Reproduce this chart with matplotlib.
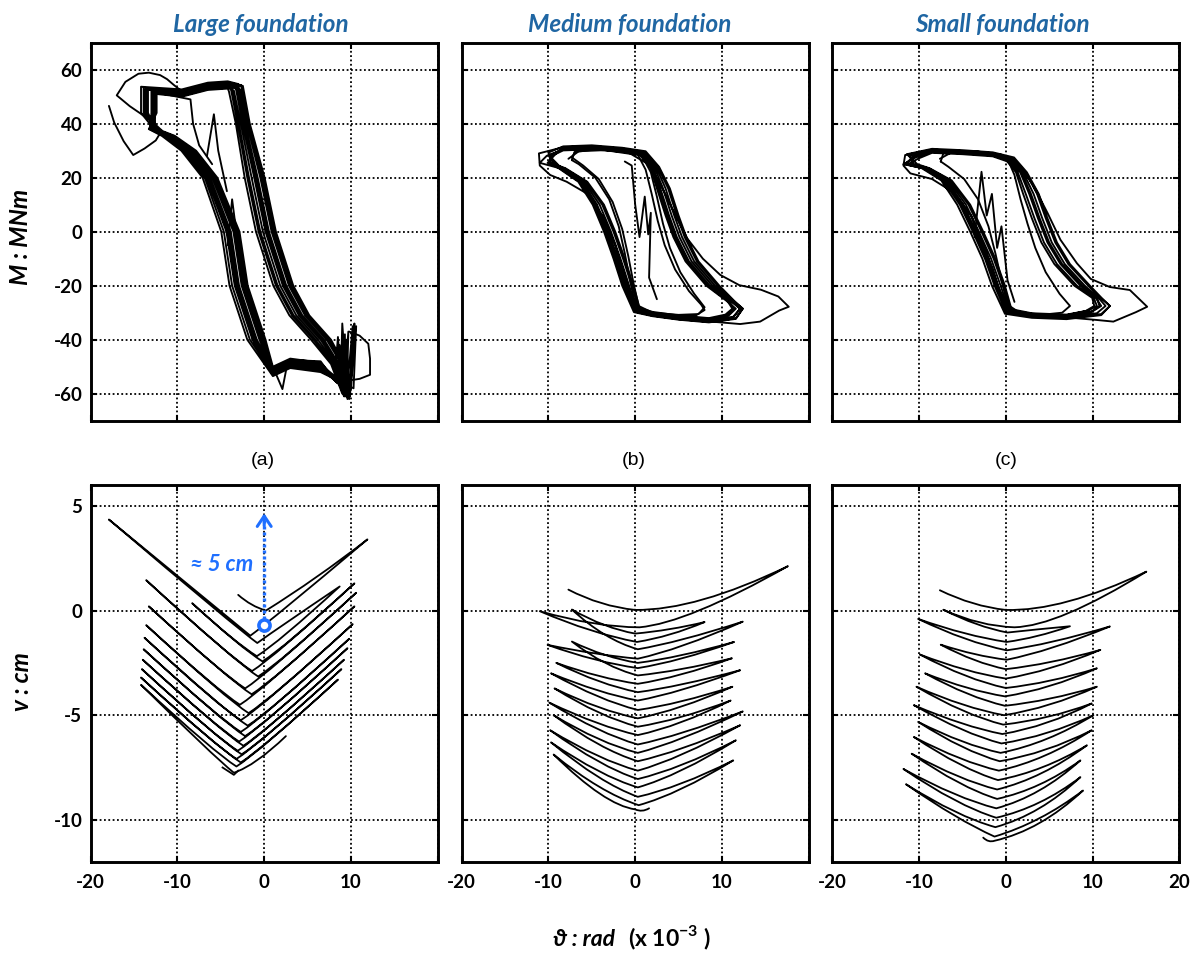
import matplotlib
matplotlib.use('Agg')
import matplotlib.pyplot as plt
from matplotlib.path import Path
from matplotlib.patches import PathPatch

plt.rcParams['axes.unicode_minus'] = False
plt.rcParams['font.family'] = ['Lato', 'DejaVu Sans']
plt.rcParams['mathtext.fontset'] = 'custom'
plt.rcParams['mathtext.rm'] = 'Lato'
plt.rcParams['mathtext.bf'] = 'Lato:bold'

# ---------------- axis settings ----------------
theta_ticks = [-20, -10, 0, 10, 20]
moment_ticks = [-60, -40, -20, 0, 20, 40, 60]
settle_ticks = [-10, -5, 0, 5]
titles = ['Large foundation', 'Medium foundation', 'Small foundation']
panel_tags = ['(a)', '(b)', '(c)']

# ---------------- moment - rotation loops (theta x1e-3 rad, M MNm) ----------------
large_init = [(-17.9, 46.6), (-17.3, 40.5), (-16.2, 33.5), (-15.1, 28.4), (-13.8, 30.8), (-12.5, 33.8),
              (-11.8, 37.5), (-13.0, 41.0), (-15.5, 46.5), (-17.0, 50.5), (-16.0, 55.5), (-14.5, 58.5),
              (-13.3, 58.9), (-12.0, 58.0), (-11.2, 56.5), (-10.4, 54.3), (-9.5, 52.0), (-6.5, 54.5),
              (-4.2, 55.0)]
large_c1 = [(-2.46, 54.0), (-1.66, 40), (0.05, 20), (1.35, 0), (3.35, -20), (5.2, -31), (7.7, -40),
            (9.2, -49), (9.9, -61), (10.2, -35), (9.6, -57), (6.5, -51), (3.0, -49.5), (1.0, -52.5),
            (-1.65, -40), (-3.7, -20), (-4.65, 0), (-6.85, 20), (-9.3, 30), (-11.6, 35.5), (-13.2, 38)]
large_c2 = [(-12.9, 44), (-12.9, 51.7), (-9.5, 50.7), (-6.5, 53.2), (-4.2, 53.7), (-2.8, 52.7), (-2.0, 40),
            (-0.45, 20), (0.85, 0), (2.85, -20), (4.7, -31), (7.2, -40), (8.9, -49), (9.7, -61), (9.5, -40),
            (9.1, -56), (6.5, -49.2), (3.0, -47.7), (1.0, -50.7), (-0.15, -40), (-2.2, -20), (-3.15, 0),
            (-5.65, 20), (-8.1, 30), (-10.5, 35.5), (-12.5, 38)]
large_c3 = [(-13.4, 44), (-13.4, 52.8), (-9.5, 51.8), (-6.5, 54.3), (-4.2, 54.8), (-3.16, 53.8), (-2.36, 40),
            (-0.95, 20), (0.35, 0), (2.35, -20), (4.2, -31), (6.7, -40), (8.5, -49), (9.6, -61), (9.0, -34),
            (8.8, -57), (6.5, -50.5), (3.0, -49), (1.0, -52), (-1.05, -40), (-3.1, -20), (-4.05, 0),
            (-6.4, 20), (-8.85, 30), (-11.2, 35.5), (-12.9, 38)]
large_c4 = [(-12.6, 44), (-12.6, 51.3), (-9.5, 50.3), (-6.5, 52.8), (-4.2, 53.3), (-3.5, 52.3), (-2.7, 40),
            (-1.45, 20), (-0.15, 0), (1.85, -20), (3.7, -31), (6.2, -40), (8.2, -49), (9.4, -61), (9.3, -38),
            (8.6, -56), (6.5, -48.5), (3.0, -47), (1.0, -50), (0.15, -40), (-1.9, -20), (-2.85, 0),
            (-5.4, 20), (-7.85, 30), (-10.3, 35.5), (-12.3, 38)]
large_c5 = [(-13.9, 44), (-13.9, 53.3), (-9.5, 52.3), (-6.5, 54.8), (-4.2, 55.3), (-2.67, 54.3), (-1.87, 40),
            (-0.25, 20), (1.05, 0), (3.05, -20), (4.9, -31), (7.4, -40), (9.0, -49), (9.8, -62), (10.5, -36),
            (10.0, -58), (6.5, -51.5), (3.0, -50), (1.0, -53), (-1.35, -40), (-3.4, -20), (-4.35, 0),
            (-6.65, 20), (-9.1, 30), (-11.5, 35.5), (-13.1, 38)]
large_c6 = [(-13.0, 44), (-13.0, 52.2), (-9.5, 51.2), (-6.5, 53.7), (-4.2, 54.2), (-3.86, 53.2), (-3.06, 40),
            (-1.95, 20), (-0.65, 0), (1.35, -20), (3.2, -31), (5.7, -40), (7.9, -49), (9.2, -61), (8.7, -42),
            (8.4, -56), (6.5, -49.7), (3.0, -48.2), (1.0, -51.2), (-0.55, -40), (-2.6, -20), (-3.55, 0),
            (-6.0, 20), (-8.45, 30), (-10.85, 35.5), (-12.7, 38)]
large_c7 = [(-14.2, 44), (-14.2, 53.7), (-9.5, 52.7), (-6.5, 55.2), (-4.2, 55.7), (-3.0, 54.7), (-2.2, 40),
            (-0.75, 20), (0.55, 0), (2.55, -20), (4.4, -31), (6.9, -40), (8.6, -49), (9.6, -62), (10.6, -35),
            (10.3, -58), (6.5, -52), (3.0, -50.5), (1.0, -53.5), (-1.95, -40), (-4.0, -20), (-4.95, 0),
            (-7.1, 20), (-9.55, 30), (-11.8, 35.5), (-13.3, 38)]
large_c8 = [(-12.4, 44), (-12.4, 51.0), (-9.5, 50.0), (-6.5, 52.5), (-4.2, 53.0), (-4.07, 52.0), (-3.27, 40),
            (-2.25, 20), (-0.95, 0), (1.05, -20), (2.9, -31), (5.4, -40), (7.7, -49), (9.0, -60), (8.5, -39),
            (8.1, -55), (6.5, -48), (3.0, -47.5), (1.0, -50.5), (-0.35, -40), (-2.4, -20), (-3.35, 0),
            (-5.8, 20), (-8.25, 30), (-10.7, 35.5), (-12.5, 38)]
large_c9 = [(-13.7, 44), (-13.7, 52.6), (-9.5, 51.6), (-6.5, 54.1), (-4.2, 54.6), (-3.3, 53.6), (-2.5, 40),
            (-1.15, 20), (0.15, 0), (2.15, -20), (4.0, -31), (6.5, -40), (8.4, -49), (9.5, -61), (9.7, -37),
            (9.2, -57), (6.5, -50.2), (3.0, -48.7), (1.0, -51.7), (-1.25, -40), (-3.3, -20), (-4.25, 0),
            (-6.55, 20), (-9.0, 30), (-11.33, 35.5), (-12.97, 38)]
large_c10 = [(-12.8, 44), (-12.8, 51.9), (-9.5, 50.9), (-6.5, 53.4), (-4.2, 53.9), (-3.72, 52.9), (-2.92, 40),
             (-1.75, 20), (-0.45, 0), (1.55, -20), (3.4, -31), (5.9, -40), (8.0, -49), (9.3, -61), (9.0, -41),
             (8.7, -56), (6.5, -49.4), (3.0, -47.9), (1.0, -50.9), (-0.85, -40), (-2.9, -20), (-3.85, 0),
             (-6.23, 20), (-8.68, 30), (-11.07, 35.5), (-12.83, 38)]
large_c11 = [(-13.5, 44), (-13.5, 53.1), (-9.5, 52.1), (-6.5, 54.6), (-4.2, 55.1), (-2.6, 54.1), (-1.8, 40),
             (-0.15, 20), (1.15, 0), (3.15, -20), (5.0, -31), (7.5, -40), (9.07, -49), (9.83, -61), (10.4, -34),
             (9.9, -57), (6.5, -51.2), (3.0, -49.7), (1.0, -52.7), (-0.05, -40), (-2.1, -20), (-3.05, 0),
             (-5.59, 20), (-8.04, 30), (-10.53, 35.5), (-12.57, 38), (-12.6, 44)]
large_spike1 = [(-6.6, 28), (-5.8, 43.5), (-5.3, 30), (-4.3, 15)]
large_spike2 = [(-4.2, -5), (-3.7, 12), (-3.3, 2), (-2.6, -15)]
large_spike3 = [(1.0, -50), (2.1, -58.3), (2.6, -50)]
large_inner = [(-10.8, 50.5), (-8.5, 49), (-8.2, 40), (-7.5, 32), (-6.0, 25)]
large_right = [(9.8, -37), (11.0, -38.5), (12.0, -41.5), (12.2, -47), (12.2, -53), (11.0, -54.5), (10.0, -55)]

medium_init = [(-7.7, 27.0), (-6.5, 29.8), (-3.5, 30.2), (-0.5, 28.8), (1.5, 25.0), (3.0, 17.0), (4.5, 7.0),
               (6.0, -2.5), (7.8, -10.0), (9.8, -16.0), (12.0, -19.8), (14.5, -21.5), (16.5, -24.0),
               (17.7, -27.8), (16.6, -29.2), (14.4, -33.3), (12.1, -34.2), (9.5, -33.5), (6.0, -32.5),
               (3.0, -31.0), (0.6, -29.2), (-0.4, -24.0), (-1.3, -15.0), (-2.3, -5.0), (-3.6, 5.0),
               (-5.5, 14.0), (-7.9, 18.5), (-9.8, 21.0), (-11.0, 24.5)]
medium_c1 = [(-11.1, 29.0), (-8.3, 31.3), (-5.0, 31.7), (-1.5, 30.8), (1.1, 29.5), (2.62, 24), (3.8, 16),
             (4.8, 6), (5.7, -2), (7.1, -11), (9.5, -20), (11.26, -25.5), (12.4, -28.5), (11.6, -32.1),
             (8.5, -33.4), (5.0, -32.4), (2.0, -31.1), (-0.05, -29.6), (-1.3, -20), (-2.3, -10), (-3.4, 0),
             (-4.7, 10), (-6.4, 18.5), (-8.7, 23.5), (-11.0, 25.5)]
medium_c2 = [(-10.2, 28.1), (-8.3, 30.4), (-5.0, 30.8), (-1.5, 29.9), (0.65, 28.6), (1.99, 24), (2.9, 16),
             (3.9, 6), (4.8, -2), (6.2, -11), (8.6, -20), (10.72, -25.5), (11.4, -28.5), (10.6, -31.1),
             (8.5, -32.4), (5.0, -31.4), (2.0, -30.1), (0.4, -28.6), (-0.4, -20), (-1.4, -10), (-2.5, 0),
             (-3.8, 10), (-5.68, 18.5), (-8.16, 23.5), (-10.1, 25.5)]
medium_c3 = [(-9.2, 28.7), (-8.3, 31.0), (-5.0, 31.4), (-1.5, 30.5), (0.95, 29.2), (2.41, 24), (3.5, 16),
             (4.5, 6), (5.4, -2), (6.8, -11), (9.2, -20), (11.08, -25.5), (12.1, -28.5), (11.3, -31.8),
             (8.5, -33.1), (5.0, -32.1), (2.0, -30.8), (0.1, -29.3), (-1.0, -20), (-2.0, -10), (-3.1, 0),
             (-4.4, 10), (-6.16, 18.5), (-8.52, 23.5), (-9.1, 25.5)]
medium_c4 = [(-9.8, 27.8), (-8.3, 30.1), (-5.0, 30.5), (-1.5, 29.6), (0.55, 28.3), (1.85, 24), (2.7, 16),
             (3.7, 6), (4.6, -2), (6.0, -11), (8.4, -20), (10.6, -25.5), (11.2, -28.5), (10.4, -30.7),
             (8.5, -32.0), (5.0, -31.0), (2.0, -29.7), (0.5, -28.2), (-0.2, -20), (-1.2, -10), (-2.3, 0),
             (-3.6, 10), (-5.52, 18.5), (-8.04, 23.5), (-9.7, 25.5)]
medium_c5 = [(-10.0, 29.3), (-8.3, 31.6), (-5.0, 32.0), (-1.5, 31.1), (1.2, 29.8), (2.76, 24), (4.0, 16),
             (5.0, 6), (5.9, -2), (7.3, -11), (9.7, -20), (11.38, -25.5), (12.4, -28.5), (11.6, -32.3),
             (8.5, -33.6), (5.0, -32.6), (2.0, -31.3), (-0.15, -29.8), (-1.5, -20), (-2.5, -10), (-3.6, 0),
             (-4.9, 10), (-6.56, 18.5), (-8.82, 23.5), (-9.9, 25.5)]
medium_c6 = [(-9.5, 28.5), (-8.3, 30.8), (-5.0, 31.2), (-1.5, 30.3), (0.8, 29.0), (2.2, 24), (3.2, 16),
             (4.2, 6), (5.1, -2), (6.5, -11), (8.9, -20), (10.9, -25.5), (12.1, -28.5), (11.3, -31.5),
             (8.5, -32.8), (5.0, -31.8), (2.0, -30.5), (0.25, -29.0), (-0.7, -20), (-1.7, -10), (-2.8, 0),
             (-4.1, 10), (-5.92, 18.5), (-8.34, 23.5), (-9.4, 25.5)]
medium_c7 = [(-9.9, 28.3), (-8.3, 30.6), (-5.0, 31.0), (-1.5, 30.1), (0.45, 28.8), (1.71, 24), (2.5, 16),
             (3.5, 6), (4.4, -2), (5.8, -11), (8.2, -20), (10.48, -25.5), (11.6, -28.5), (10.8, -31.0),
             (8.5, -32.3), (5.0, -31.3), (2.0, -30.0), (0.05, -28.5), (-1.1, -20), (-2.1, -10), (-3.2, 0),
             (-4.5, 10), (-6.24, 18.5), (-8.58, 23.5), (-9.8, 25.5)]
medium_s1 = [(-7.3, 26.5), (-7.0, 29.5), (-4.5, 30.5), (-1.5, 30.0), (0.3, 28.5), (1.2, 23.0), (1.9, 14.0),
             (2.6, 4.0), (3.4, -5.0), (4.6, -14.0), (6.2, -22.0), (7.6, -27.0), (8.0, -29.0), (7.0, -31.0),
             (4.5, -31.0), (1.5, -29.8), (0.0, -27.0), (-0.6, -18.0), (-1.2, -8.0), (-1.9, 2.0), (-3.0, 12.0),
             (-4.6, 20.0), (-6.5, 25.0), (-7.3, 26.5)]
medium_s2 = [(-7.3, 27.5), (-6.8, 30.2), (-4.0, 30.8), (-1.0, 30.2), (0.8, 28.0), (1.8, 22.0), (2.5, 13.0),
             (3.2, 3.0), (4.0, -6.0), (5.2, -15.0), (6.8, -23.0), (8.0, -28.0), (7.3, -30.5), (5.0, -30.8),
             (2.0, -30.0), (0.4, -27.5), (-0.2, -19.0), (-0.8, -9.0), (-1.5, 1.0), (-2.6, 11.0), (-4.2, 19.5),
             (-6.0, 24.5), (-7.3, 27.5)]
medium_zigzag = [(-1.2, 26.0), (-0.4, 24.5), (0.0, 10.0), (0.5, -2.0), (1.1, 13.0), (1.5, -1.0), (1.8, 7.0),
                 (1.6, -17.0), (2.5, -25.0)]

small_init = [(-7.6, 27.0), (-6.3, 29.3), (-3.5, 29.8), (-0.5, 28.5), (1.5, 25.0), (3.2, 17.0), (4.8, 7.0),
              (6.3, -3.0), (8.2, -11.7), (9.8, -17.5), (12.0, -20.5), (14.3, -21.6), (16.3, -27.8),
              (15.0, -29.8), (12.4, -33.3), (10.5, -32.7), (8.0, -32.0), (4.0, -31.5), (0.5, -29.5),
              (-0.5, -24.0), (-1.5, -14.0), (-2.7, -4.0), (-4.0, 6.0), (-6.0, 14.5), (-8.5, 19.5),
              (-11.0, 21.6), (-11.8, 24.5)]
small_c1 = [(-11.6, 28.4), (-8.5, 30.4), (-5.0, 29.9), (-1.5, 29.1), (0.85, 27.2), (2.29, 22), (3.6, 14),
            (4.6, 5), (5.7, -4), (7.2, -12), (9.5, -20), (10.92, -24.5), (12.0, -27.5), (11.0, -30.5),
            (7.0, -32.0), (3.0, -31.5), (0.05, -30.0), (-1.3, -20), (-2.4, -10), (-3.8, 0), (-5.3, 10),
            (-7.2, 19), (-9.5, 23.5), (-11.8, 25.0)]
small_c2 = [(-10.4, 27.5), (-8.5, 29.5), (-5.0, 29.0), (-1.5, 28.2), (0.4, 26.3), (1.66, 22), (2.7, 14),
            (3.7, 5), (4.8, -4), (6.3, -12), (8.6, -20), (10.38, -24.5), (11.0, -27.5), (10.0, -29.5),
            (7.0, -31.0), (3.0, -30.5), (0.55, -29.0), (-0.3, -20), (-1.4, -10), (-2.8, 0), (-4.3, 10),
            (-6.4, 19), (-8.9, 23.5), (-10.6, 25.0)]
small_c3 = [(-11.1, 28.2), (-8.5, 30.2), (-5.0, 29.7), (-1.5, 28.9), (0.65, 27.0), (2.01, 22), (3.2, 14),
            (4.2, 5), (5.3, -4), (6.8, -12), (9.1, -20), (10.68, -24.5), (11.5, -27.5), (10.5, -30.2),
            (7.0, -31.7), (3.0, -31.2), (0.15, -29.7), (-1.1, -20), (-2.2, -10), (-3.6, 0), (-5.1, 10),
            (-7.04, 19), (-9.38, 23.5), (-11.3, 25.0)]
small_c4 = [(-10.0, 27.2), (-8.5, 29.2), (-5.0, 28.7), (-1.5, 27.9), (0.2, 26.0), (1.38, 22), (2.3, 14),
            (3.3, 5), (4.4, -4), (5.9, -12), (8.2, -20), (10.14, -24.5), (10.5, -27.5), (9.5, -29.2),
            (7.0, -30.7), (3.0, -30.2), (0.65, -28.7), (-0.1, -20), (-1.2, -10), (-2.6, 0), (-4.1, 10),
            (-6.24, 19), (-8.78, 23.5), (-10.2, 25.0)]
small_c5 = [(-11.4, 28.7), (-8.5, 30.7), (-5.0, 30.2), (-1.5, 29.4), (0.95, 27.5), (2.43, 22), (3.8, 14),
            (4.8, 5), (5.9, -4), (7.4, -12), (9.7, -20), (11.04, -24.5), (12.0, -27.5), (11.0, -30.9),
            (7.0, -32.4), (3.0, -31.9), (-0.1, -30.4), (-1.6, -20), (-2.7, -10), (-4.1, 0), (-5.6, 10),
            (-7.44, 19), (-9.68, 23.5), (-11.6, 25.0)]
small_c6 = [(-10.6, 28.0), (-8.5, 30.0), (-5.0, 29.5), (-1.5, 28.7), (0.5, 26.8), (1.8, 22), (2.9, 14),
            (3.9, 5), (5.0, -4), (6.5, -12), (8.8, -20), (10.5, -24.5), (10.8, -27.5), (9.8, -29.8),
            (7.0, -31.3), (3.0, -30.8), (0.4, -29.3), (-0.6, -20), (-1.7, -10), (-3.1, 0), (-4.6, 10),
            (-6.64, 19), (-9.08, 23.5), (-10.8, 25.0)]
small_c7 = [(-10.8, 27.7), (-8.5, 29.7), (-5.0, 29.2), (-1.5, 28.4), (0.05, 26.5), (1.17, 22), (2.0, 14),
            (3.0, 5), (4.1, -4), (5.6, -12), (7.9, -20), (9.96, -24.5), (10.2, -27.5), (9.2, -29.4),
            (7.0, -30.9), (3.0, -30.4), (0.25, -28.9), (-0.9, -20), (-2.0, -10), (-3.4, 0), (-4.9, 10),
            (-6.88, 19), (-9.26, 23.5), (-11.0, 25.0)]
small_s1 = [(-7.5, 26.0), (-7.2, 29.0), (-4.5, 29.8), (-1.5, 29.0), (0.2, 27.0), (1.0, 21.0), (1.7, 12.0),
            (2.5, 3.0), (3.4, -6.0), (4.6, -15.0), (6.2, -23.0), (7.4, -27.5), (6.5, -30.0), (4.0, -30.8),
            (1.5, -29.8), (0.2, -27.0), (-0.5, -18.0), (-1.2, -8.0), (-2.0, 2.0), (-3.2, 12.0), (-4.8, 19.5),
            (-6.6, 24.0), (-7.5, 26.0)]
small_zigzag = [(-3.6, -2.0), (-2.8, 22.2), (-2.2, 6.0), (-1.6, 14.0), (-1.0, -6.0), (-0.5, 2.0),
                (0.2, -18.0), (1.0, -26.0)]

# ---------------- settlement - rotation paths (theta x1e-3 rad, v cm) ----------------
# first point = start; then every half cycle = (shoulder, bottom, shoulder, turning point)
settle_large = [(-3.0, 0.75),
                (-1.5, 0.2), (0.2, 0.0), (6.0, 1.5), (11.9, 3.4),
                (0.9, -0.45), (-1.6, -1.2), (-4.1, -0.35), (-17.9, 4.35),
                (-3.3, -0.8), (-0.8, -1.55), (1.7, -0.8), (8.7, 1.15),
                (1.65, -1.53), (-0.85, -2.18), (-3.35, -1.53), (-8.3, 0.35),
                (-2.7, -1.78), (-0.2, -2.43), (2.3, -1.78), (10.4, 1.3),
                (1.1, -2.24), (-1.4, -2.89), (-3.9, -2.24), (-13.6, 1.45),
                (-3.2, -2.5), (-0.7, -3.15), (1.8, -2.5), (10.6, 0.85),
                (0.3, -3.07), (-2.2, -3.72), (-4.7, -3.07), (-13.3, 0.2),
                (-3.95, -3.35), (-1.45, -4.0), (1.05, -3.35), (10.4, 0.2),
                (-0.3, -3.85), (-2.8, -4.5), (-5.3, -3.85), (-13.6, -0.7),
                (-4.3, -4.25), (-1.8, -4.9), (0.7, -4.25), (10.2, -0.65),
                (-0.2, -4.6), (-2.7, -5.24), (-5.2, -4.6), (-13.8, -1.3),
                (-4.4, -4.85), (-1.9, -5.5), (0.6, -4.85), (9.8, -1.35),
                (-0.2, -5.15), (-2.7, -5.8), (-5.2, -5.15), (-13.9, -1.85),
                (-4.7, -5.35), (-2.2, -6.0), (0.3, -5.35), (9.6, -1.8),
                (-0.4, -5.6), (-2.9, -6.26), (-5.4, -5.6), (-14.0, -2.35),
                (-4.9, -5.8), (-2.4, -6.46), (0.1, -5.8), (9.2, -2.35),
                (-0.55, -6.05), (-3.05, -6.7), (-5.55, -6.05), (-14.1, -2.8),
                (-5.1, -6.22), (-2.6, -6.87), (-0.1, -6.22), (8.9, -2.8),
                (-0.7, -6.44), (-3.2, -7.09), (-5.7, -6.44), (-14.2, -3.2),
                (-5.2, -6.6), (-2.7, -7.26), (-0.2, -6.6), (8.5, -3.3),
                (-0.7, -6.8), (-3.2, -7.45), (-5.7, -6.8), (-14.2, -3.55),
                (-6.0, -6.9), (-3.5, -7.75), (-1.0, -7.4), (2.5, -6.0)]
settle_large_hook = [(-4.8, -7.5), (-3.5, -7.85), (-3.0, -7.65)]

settle_medium = [(-7.7, 1.0),
                 (-4.0, 0.2), (0.0, 0.03), (7.0, 0.0), (17.6, 2.12),
                 (6.0, -0.6), (0.5, -0.8), (-4.5, -0.8), (-11.0, -0.03),
                 (-5.0, -1.1), (0.2, -1.5), (4.0, -1.25), (8.0, -0.55),
                 (4.0, -0.95), (0.0, -1.1), (-3.5, -0.85), (-7.3, 0.05),
                 (-3.5, -1.4), (0.3, -1.85), (5.0, -1.52), (12.4, -0.53),
                 (5.0, -1.88), (0.3, -2.3), (-4.5, -2.12), (-10.1, -1.64),
                 (-4.5, -2.47), (0.3, -2.75), (5.0, -2.44), (11.4, -1.5),
                 (5.0, -2.25), (0.3, -2.5), (-3.5, -2.25), (-7.3, -1.48),
                 (-3.5, -2.7), (0.3, -3.1), (5.0, -2.9), (11.15, -2.28),
                 (5.0, -3.2), (0.3, -3.5), (-4.0, -3.25), (-9.1, -2.5),
                 (-4.0, -3.55), (0.3, -3.9), (5.0, -3.64), (12.1, -2.85),
                 (5.0, -3.94), (0.3, -4.3), (-4.0, -3.97), (-9.7, -3.0),
                 (-4.0, -4.31), (0.3, -4.75), (5.0, -4.47), (11.2, -3.64),
                 (5.0, -4.77), (0.3, -5.15), (-4.0, -4.79), (-9.3, -3.72),
                 (-4.0, -5.09), (0.3, -5.55), (5.0, -5.24), (11.0, -4.3),
                 (5.0, -5.54), (0.3, -5.95), (-4.0, -5.56), (-9.9, -4.4),
                 (-4.0, -5.9), (0.3, -6.4), (5.0, -6.0), (12.4, -4.82),
                 (5.0, -6.3), (0.3, -6.8), (-4.0, -6.35), (-9.4, -5.0),
                 (-4.0, -6.65), (0.3, -7.2), (5.0, -6.77), (12.1, -5.48),
                 (5.0, -7.11), (0.3, -7.65), (-4.0, -7.17), (-9.8, -5.72),
                 (-4.0, -7.47), (0.3, -8.05), (5.0, -7.59), (11.6, -6.2),
                 (5.0, -7.89), (0.3, -8.45), (-4.0, -7.91), (-9.7, -6.3),
                 (-4.0, -8.25), (0.3, -8.9), (5.0, -8.47), (11.3, -7.16),
                 (5.0, -8.77), (0.4, -9.3), (-4.0, -8.7), (-9.4, -6.88),
                 (-3.5, -9.3), (0.0, -9.5), (0.8, -9.65), (1.6, -9.45)]

settle_small = [(-7.6, 0.97),
                (-3.8, 0.2), (0.0, 0.03), (6.5, -0.05), (16.2, 1.86),
                (6.0, -0.75), (1.0, -0.8), (-3.0, -0.75), (-7.2, 0.04),
                (-3.3, -0.78), (0.2, -1.05), (3.5, -0.9), (7.4, -0.75),
                (3.5, -1.31), (0.1, -1.5), (-4.5, -1.22), (-10.1, -0.4),
                (-4.5, -1.52), (0.1, -1.9), (5.0, -1.62), (12.0, -0.76),
                (5.0, -1.95), (0.1, -2.35), (-3.5, -2.17), (-7.5, -1.63),
                (-3.5, -2.51), (0.0, -2.8), (5.0, -2.57), (10.9, -1.88),
                (5.0, -2.91), (0.0, -3.25), (-4.5, -2.96), (-9.9, -2.1),
                (-4.5, -3.3), (0.0, -3.7), (5.0, -3.47), (10.5, -2.76),
                (5.0, -3.77), (-0.1, -4.1), (-4.2, -3.83), (-9.3, -3.0),
                (-4.2, -4.16), (-0.1, -4.55), (5.0, -4.32), (10.5, -3.64),
                (5.0, -4.66), (-0.2, -5.0), (-4.7, -4.66), (-10.3, -3.64),
                (-4.7, -5.0), (-0.3, -5.45), (5.0, -5.2), (9.9, -4.44),
                (4.8, -5.54), (-0.4, -5.9), (-4.8, -5.55), (-10.6, -4.52),
                (-4.8, -5.89), (-0.5, -6.35), (4.8, -6.01), (10.1, -5.0),
                (4.8, -6.35), (-0.6, -6.8), (-4.8, -6.43), (-10.1, -5.32),
                (-4.8, -6.73), (-0.7, -7.2), (4.6, -6.83), (9.9, -5.72),
                (4.5, -7.17), (-0.8, -7.65), (-5.0, -7.25), (-10.6, -6.04),
                (-5.0, -7.59), (-0.9, -8.1), (4.3, -7.69), (9.35, -6.44),
                (4.2, -8.02), (-1.0, -8.55), (-5.2, -8.12), (-10.85, -6.84),
                (-5.2, -8.46), (-1.0, -9.0), (4.0, -8.54), (8.6, -7.16),
                (4.0, -8.88), (-1.1, -9.45), (-5.6, -8.98), (-11.8, -7.57),
                (-5.6, -9.32), (-1.1, -9.9), (4.0, -9.41), (8.6, -7.96),
                (4.0, -9.75), (-1.2, -10.35), (-5.6, -9.84), (-11.5, -8.3),
                (-5.6, -10.0), (-1.3, -10.8), (4.0, -10.14), (8.9, -8.6),
                (4.0, -10.5), (-1.3, -11.0), (-2.0, -11.1), (-2.6, -10.85)]

# annotation on the large-foundation settlement panel
uplift_theta = 0.0
uplift_from = -0.7
uplift_to = 4.65
uplift_label = '≈ 5 cm'

top_paths = [
    [large_init + large_c1 + large_c2 + large_c3 + large_c4 + large_c5 + large_c6 + large_c7 + large_c8
     + large_c9 + large_c10 + large_c11,
     large_spike1, large_spike2, large_spike3, large_inner, large_right],
    [medium_init + medium_c1 + medium_c2 + medium_c3 + medium_c4 + medium_c5 + medium_c6 + medium_c7,
     medium_s1, medium_s2, medium_zigzag],
    [small_init + small_c1 + small_c2 + small_c3 + small_c4 + small_c5 + small_c6 + small_c7,
     small_s1, small_zigzag],
]
bottom_paths = [settle_large, settle_medium, settle_small]

# ---------------- figure ----------------
fig = plt.figure(figsize=(11.91, 9.55), dpi=100)
col_left = [0.07616, 0.38766, 0.69882]
W = 0.29135
top_b, top_h = 0.55948, 0.39581
bot_b, bot_h = 0.09770, 0.39445

blue_title = '#1F66A3'
blue_ann = '#1F6FFF'
LW_TOP = 1.35
LW_BOT = 1.3
line_kw = dict(color='black', lw=LW_TOP, solid_joinstyle='round', solid_capstyle='round', zorder=3)


def style(ax, yticks, ylim, xlab, ylab):
    ax.set_xlim(-20, 20)
    ax.set_ylim(*ylim)
    ax.set_xticks(theta_ticks)
    ax.set_yticks(yticks)
    ax.grid(True, color='black', linestyle=(0, (1.0, 1.4)), linewidth=1.3)
    ax.set_axisbelow(True)
    for s in ax.spines.values():
        s.set_linewidth(2.1)
        s.set_zorder(5)
    ax.tick_params(direction='in', length=4, width=1.5, top=True, right=True,
                   labelsize=13.5, pad=6)
    ax.tick_params(axis='x', pad=9)
    if xlab is None:
        ax.set_xticklabels([])
    else:
        ax.set_xticklabels(xlab, fontweight='bold', fontsize=13.5)
    if ylab:
        ax.set_yticklabels([str(v) for v in yticks], fontweight='bold', fontsize=13.5)
    else:
        ax.set_yticklabels([])


def curve_patch(points):
    # start point, then pairs (control, end) drawn as quadratic Bezier pieces
    codes = [Path.MOVETO] + [Path.CURVE3] * (len(points) - 1)
    return PathPatch(Path(points, codes), fill=False, edgecolor='black', lw=LW_BOT,
                     joinstyle='round', capstyle='round', zorder=3)


for i in range(3):
    ax = fig.add_axes([col_left[i], top_b, W, top_h])
    for p in top_paths[i]:
        xs, ys = zip(*p)
        ax.plot(xs, ys, **line_kw)
    style(ax, moment_ticks, (-70, 70), None, i == 0)

    axb = fig.add_axes([col_left[i], bot_b, W, bot_h])
    axb.add_patch(curve_patch(bottom_paths[i]))
    xl = [str(v) for v in theta_ticks]
    if i < 2:
        xl[-1] = ''
    style(axb, settle_ticks, (-12, 6), xl, i == 0)

    if i == 0:
        hx, hy = zip(*settle_large_hook)
        axb.plot(hx, hy, color='black', lw=LW_BOT, zorder=3)
        axb.plot([uplift_theta, uplift_theta], [uplift_from, uplift_to - 0.3], color=blue_ann,
                 lw=2.4, linestyle=(0, (0.9, 0.9)), zorder=6)
        axb.annotate('', xy=(uplift_theta, uplift_to), xytext=(uplift_theta, uplift_to - 0.6),
                     arrowprops=dict(arrowstyle='->,head_length=0.75,head_width=0.5', color=blue_ann,
                                     lw=2.2, mutation_scale=10, shrinkA=0, shrinkB=0), zorder=6)
        axb.plot([uplift_theta], [uplift_from], marker='o', ms=8, mfc='white', mec=blue_ann,
                 mew=2.6, zorder=7)
        axb.text(-4.95, 2.2, uplift_label, color=blue_ann, fontsize=16, fontweight='bold',
                 fontstyle='italic', ha='center', va='center', zorder=7,
                 family=['Lato', 'DejaVu Sans'])

title_x = [0.219, 0.529, 0.8417]
tag_x = [0.2208, 0.5317, 0.8447]
for i in range(3):
    fig.text(title_x[i], 0.966, titles[i], ha='center', va='baseline', fontsize=17.5,
             fontweight='bold', fontstyle='italic', color=blue_title)
    fig.text(tag_x[i], 0.5173, panel_tags[i], ha='center', va='center', fontsize=14,
             family=['Liberation Sans', 'DejaVu Sans'])

fig.text(0.0168, 0.752, 'M : MNm', rotation=90, ha='center', va='center', fontsize=17.5,
         fontweight='bold', fontstyle='italic')
fig.text(0.0182, 0.286, 'v : cm', rotation=90, ha='center', va='center', fontsize=17.5,
         fontweight='bold', fontstyle='italic')
fig.text(0.5164, 0.0095, 'ϑ : rad', ha='right', va='baseline', fontsize=16.5,
         fontweight='bold', fontstyle='italic', family=['Lato', 'DejaVu Sans'])
fig.text(0.5273, 0.0095, r'(x 10$^{\mathbf{-3}}$ )', ha='left', va='baseline', fontsize=16.5,
         fontweight='bold')

fig.savefig('out.png', dpi=100)
